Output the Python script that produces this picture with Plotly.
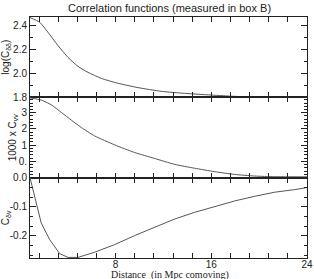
import plotly.graph_objects as go
from plotly.subplots import make_subplots

# Top panel: log(C_dd)
x_dd = [0.84, 1.65, 2.34, 3.18, 4.02, 4.85, 5.69, 6.80, 8.20, 9.87, 11.82, 13.77, 16.0, 17.95, 20.18, 24.0]
y_dd = [2.464, 2.425, 2.342, 2.231, 2.133, 2.058, 2.008, 1.958, 1.917, 1.881, 1.85, 1.833, 1.819, 1.808, 1.803, 1.80]

# Middle panel: 1000 x C_vv (as drawn on its axis)
x_vv = [0.84, 1.78, 2.62, 3.46, 4.29, 5.13, 6.25, 7.92, 9.59, 11.27, 12.94, 14.61, 16.28, 17.95, 19.63, 21.30, 24.0]
y_vv = [3.92, 3.78, 3.49, 3.02, 2.55, 2.09, 1.57, 1.02, 0.55, 0.18, -0.18, -0.42, -0.63, -0.80, -0.90, -0.94, -0.95]

# Bottom panel: C_dv
x_dv = [0.84, 1.23, 1.78, 2.49, 3.32, 4.02, 4.85, 6.25, 7.92, 9.59, 11.27, 12.94, 14.61, 16.28, 17.95, 19.63, 21.30, 22.97, 24.0]
y_dv = [0.0, -0.065, -0.156, -0.213, -0.261, -0.274, -0.274, -0.256, -0.230, -0.199, -0.170, -0.142, -0.119, -0.099, -0.080, -0.064, -0.050, -0.041, -0.034]

x_ticks = [8, 16, 24]
top_ticks = [1.8, 2.0, 2.2, 2.4]
mid_ticks = [0, 1, 2, 3]
mid_labels = ["0.", "1", "2", "3"]
bot_ticks = [0.0, -0.1, -0.2]
bot_labels = ["0.0", "-0.1", "-0.2"]

fig = make_subplots(rows=3, cols=1, shared_xaxes=True, vertical_spacing=0)
line = dict(color="#555555", width=1)
fig.add_trace(go.Scatter(x=x_dd, y=y_dd, mode="lines", line=dict(line, shape="spline", smoothing=0.6)), row=1, col=1)
fig.add_trace(go.Scatter(x=x_vv, y=y_vv, mode="lines", line=dict(line, shape="spline", smoothing=0.6)), row=2, col=1)
fig.add_trace(go.Scatter(x=x_dv, y=y_dv, mode="lines", line=line), row=3, col=1)

font_sans = "Liberation Sans, Arial, sans-serif"
tickfont = dict(family=font_sans, size=10, color="#222")
for r in (1, 2, 3):
    fig.update_xaxes(range=[0.84, 24], tickvals=x_ticks, ticks="inside", ticklen=5,
                     showline=True, linecolor="#222", linewidth=1, mirror="ticks",
                     showgrid=False, zeroline=False, tickcolor="#222", automargin=False,
                     minor=dict(ticks="inside", tick0=0, dtick=1.6, ticklen=5, tickcolor="#222"),
                     showticklabels=(r == 3), tickfont=tickfont, row=r, col=1)

fig.update_xaxes(ticklabelstandoff=-3, row=3, col=1)

common_y = dict(ticks="inside", ticklen=6, showline=True, linecolor="#222", linewidth=1,
                mirror="ticks", showgrid=False, zeroline=False, tickcolor="#222", tickfont=tickfont,
                automargin=False)
fig.update_yaxes(range=[1.8, 2.469], tickvals=top_ticks, tickformat=".1f",
                 minor=dict(ticks="inside", tick0=0, dtick=0.1, ticklen=3, tickcolor="#222"),
                 title=dict(text="log(C<sub>δδ</sub>)", font=dict(size=10, family=font_sans, color="#222")),
                 row=1, col=1, **common_y)
fig.update_yaxes(range=[-1.0, 3.95], tickvals=mid_ticks, ticktext=mid_labels,
                 minor=dict(ticks="inside", tick0=0, dtick=0.2, ticklen=3, tickcolor="#222"),
                 row=2, col=1, **common_y)
fig.update_yaxes(range=[-0.276, 0.0], tickvals=bot_ticks, ticktext=bot_labels,
                 minor=dict(ticks="inside", tick0=0, dtick=0.1 / 3, ticklen=3, tickcolor="#222"),
                 title=dict(text="C<sub>δv</sub>", font=dict(size=10, family=font_sans, color="#222")),
                 row=3, col=1, **common_y)

fig.add_annotation(text="1000 x C<sub>vv</sub>", xref="paper", yref="paper",
                   x=-0.062, y=0.5, xanchor="center", yanchor="middle", textangle=-90,
                   showarrow=False, font=dict(family=font_sans, size=10, color="#222"))
fig.add_annotation(text="Distance  (in Mpc comoving)", xref="paper", yref="paper",
                   x=0.505, y=-0.072, xanchor="center", yanchor="middle", showarrow=False,
                   font=dict(family="Liberation Serif, Times New Roman, serif", size=10, color="#222"))

fig.update_layout(
    width=314, height=279,
    margin=dict(l=30, r=7, t=17, b=21),
    paper_bgcolor="white", plot_bgcolor="white",
    showlegend=False,
    title=dict(text="Correlation functions (measured in box B)", x=0.54, xanchor="center",
               y=0.985, yanchor="top",
               font=dict(family=font_sans, size=11, color="#222")),
)
fig.write_html("out.html", config={"displayModeBar": False},
               post_script="document.body.style.margin='0';")
